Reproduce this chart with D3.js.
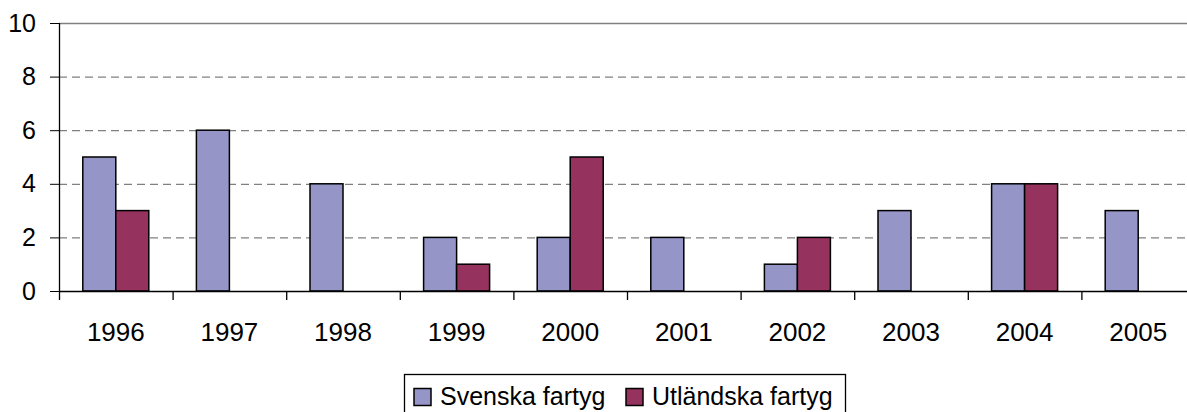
<!DOCTYPE html>
<html>
<head>
<meta charset="utf-8">
<script src="https://cdn.jsdelivr.net/npm/d3@7"></script>
<style>
  body { margin: 0; background: #fff; }
  svg { display: block; font-family: "Liberation Sans", Arial, sans-serif; }
</style>
</head>
<body>
<div id="chart"></div>
<script>
// Chart data
const years = ["1996", "1997", "1998", "1999", "2000", "2001", "2002", "2003", "2004", "2005"];
const svenska = [5, 6, 4, 2, 2, 2, 1, 3, 4, 3];
const utlandska = [3, 0, 0, 1, 5, 0, 2, 0, 4, 0];
const seriesNames = ["Svenska fartyg", "Utländska fartyg"];
const seriesColors = ["#9595C8", "#96325E"];
const yTicks = [0, 2, 4, 6, 8, 10];

const svgWidth = 1187;
const svgHeight = 412;
const margin = { top: 23, left: 59 };
const plotWidth = 1136;
const plotHeight = 268;

const svg = d3.select("#chart")
    .append("svg")
    .attr("width", svgWidth)
    .attr("height", svgHeight);

const g = svg.append("g")
    .attr("transform", `translate(${margin.left},${margin.top})`);

// Scales
const xScale = d3.scaleBand().domain(years).range([0, plotWidth]);
const yScale = d3.scaleLinear().domain([0, 10]).range([plotHeight, 0]);
const groupWidth = 66;
const xInner = d3.scaleBand().domain([0, 1]).range([0, groupWidth]);

// Gridlines
g.selectAll(".grid")
    .data(yTicks.filter(d => d > 0))
    .enter()
    .append("line")
    .attr("x1", 0)
    .attr("x2", plotWidth)
    .attr("y1", d => yScale(d) + 0.5)
    .attr("y2", d => yScale(d) + 0.5)
    .attr("stroke", "#808080")
    .attr("stroke-width", 1.3)
    .attr("stroke-dasharray", d => d === 10 ? null : "8,5");

// Bars
const data = years.map((y, i) => ({ year: y, values: [svenska[i], utlandska[i]] }));
const groups = g.selectAll(".year")
    .data(data)
    .enter()
    .append("g")
    .attr("transform", d => `translate(${xScale(d.year) + (xScale.bandwidth() - groupWidth) / 2},0)`);

groups.selectAll("rect")
    .data(d => d.values.map((v, k) => ({ k, v })).filter(e => e.v > 0))
    .enter()
    .append("rect")
    .attr("x", d => xInner(d.k))
    .attr("y", d => yScale(d.v))
    .attr("width", xInner.bandwidth())
    .attr("height", d => plotHeight - yScale(d.v))
    .attr("fill", d => seriesColors[d.k])
    .attr("stroke", "#000")
    .attr("stroke-width", 1.5);

// Y axis
const yAxis = g.append("g")
    .call(d3.axisLeft(yScale).tickValues(yTicks).tickSize(9).tickPadding(14));
yAxis.select(".domain").attr("d", `M0.5,0V${plotHeight}`).attr("stroke-width", 1.3);
yAxis.selectAll("text").attr("font-size", "25px").attr("fill", "#000").attr("font-family", "Liberation Sans, Arial, sans-serif");

// X axis
const xAxis = g.append("g")
    .attr("transform", `translate(0,${plotHeight})`)
    .call(d3.axisBottom(xScale).tickSize(0));
xAxis.select(".domain").attr("stroke-width", 1.3);
xAxis.selectAll("text")
    .attr("y", 50)
    .attr("dy", null)
    .attr("font-size", "26px")
    .attr("fill", "#000")
    .attr("font-family", "Liberation Sans, Arial, sans-serif");

// Category separator ticks
g.selectAll(".sep")
    .data(years)
    .enter()
    .append("line")
    .attr("x1", d => xScale(d) + 0.5)
    .attr("x2", d => xScale(d) + 0.5)
    .attr("y1", plotHeight)
    .attr("y2", plotHeight + 9)
    .attr("stroke", "#000")
    .attr("stroke-width", 1.3);

// Legend
const legend = svg.append("g").attr("transform", "translate(404,374)");
legend.append("rect")
    .attr("x", 0.5)
    .attr("y", 0.5)
    .attr("width", 441)
    .attr("height", 50)
    .attr("fill", "#fff")
    .attr("stroke", "#000")
    .attr("stroke-width", 1.3);

const legendX = [10, 222];
seriesNames.forEach((name, i) => {
    legend.append("rect")
        .attr("x", legendX[i])
        .attr("y", 14.5)
        .attr("width", 17)
        .attr("height", 17)
        .attr("fill", seriesColors[i])
        .attr("stroke", "#000")
        .attr("stroke-width", 1.5);
    legend.append("text")
        .attr("x", legendX[i] + 26)
        .attr("y", 31)
        .attr("font-size", "25px")
        .text(name);
});
</script>
</body>
</html>
